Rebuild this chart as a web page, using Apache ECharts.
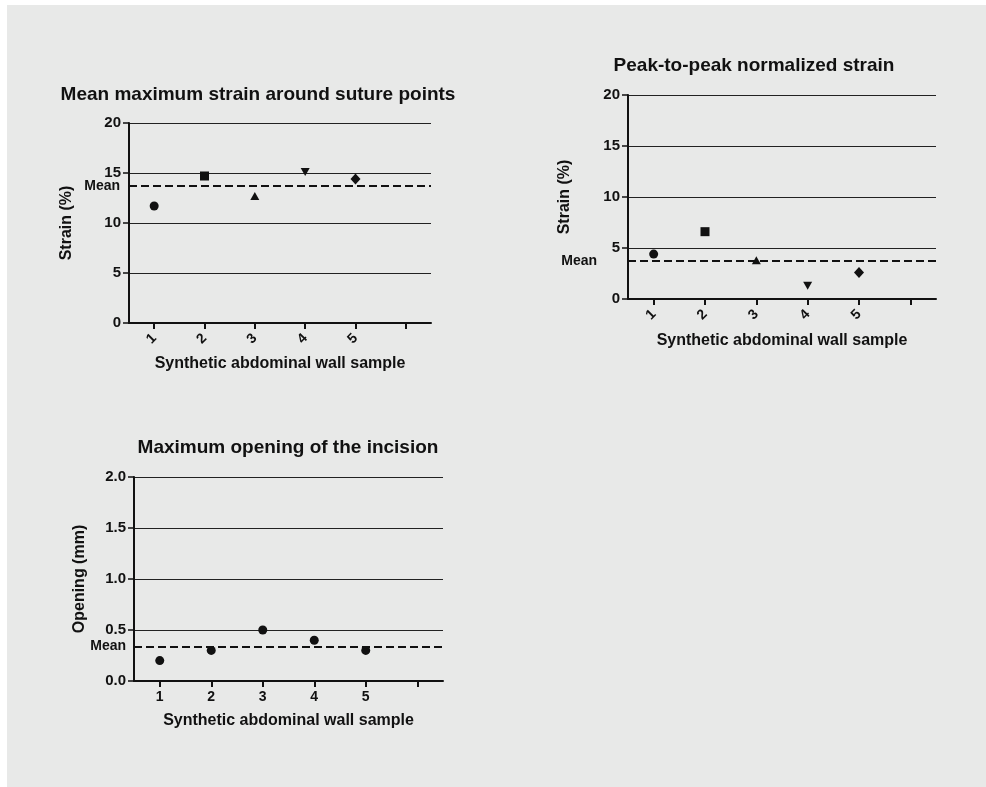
<!DOCTYPE html>
<html>
<head>
<meta charset="utf-8">
<script src="https://cdn.jsdelivr.net/npm/echarts@6/dist/echarts.min.js"></script>
<style>
  html, body { margin: 0; padding: 0; background: #ffffff; }
  #chart { width: 986px; height: 787px; }
</style>
</head>
<body>
<div id="chart"></div>
<script>
// Sample labels (a sixth, empty slot leaves room to the right of sample 5)
const samples = ['1', '2', '3', '4', '5', ''];

// Mean maximum strain around suture points (%)
const strainMax = [11.7, 14.7, 12.7, 15.1, 14.4];
// Peak-to-peak normalized strain (%)
const strainP2P = [4.4, 6.6, 3.8, 1.3, 2.6];
// Maximum opening of the incision (mm)
const opening = [0.2, 0.3, 0.5, 0.4, 0.3];

// Marker used for each sample in the strain panels
const markers = ['circle', 'rect', 'triangle', 'path://M0,0 L10,0 L5,10 Z', 'diamond'];
const markerSizes = [9, 9, [9, 8], [9, 8], [10, 11]];

const FONT = '"Liberation Sans", Arial, sans-serif';
const INK = '#111111';

function mean(arr) {
  return arr.reduce((a, b) => a + b, 0) / arr.length;
}

function points(values, useMarkers) {
  return values.map((v, i) => {
    const item = { value: v };
    if (useMarkers) {
      item.symbol = markers[i];
      item.symbolSize = markerSizes[i];
    }
    return item;
  });
}

function xAxisFor(gridIndex, rotate, margin, nameGap) {
  return {
    type: 'category',
    gridIndex: gridIndex,
    data: samples,
    boundaryGap: true,
    name: 'Synthetic abdominal wall sample',
    nameLocation: 'middle',
    nameGap: nameGap,
    nameTextStyle: { fontFamily: FONT, fontWeight: 'bold', fontSize: 16, color: INK },
    axisLine: { lineStyle: { color: INK, width: 2 } },
    axisTick: { show: true, alignWithLabel: true, interval: 0, length: 6, lineStyle: { color: INK, width: 2 } },
    axisLabel: { interval: 0, rotate: rotate, margin: margin, fontFamily: FONT, fontWeight: 'bold', fontSize: 14, color: INK },
    splitLine: { show: false }
  };
}

function yAxisFor(gridIndex, name, max, interval, nameGap, fmt) {
  return {
    type: 'value',
    gridIndex: gridIndex,
    min: 0,
    max: max,
    interval: interval,
    name: name,
    nameLocation: 'middle',
    nameGap: nameGap,
    nameTextStyle: { fontFamily: FONT, fontWeight: 'bold', fontSize: 16, color: INK },
    axisLine: { show: true, lineStyle: { color: INK, width: 2 } },
    axisTick: { show: true, length: 6, lineStyle: { color: INK, width: 1.5 } },
    axisLabel: { margin: 8, fontFamily: FONT, fontWeight: 'bold', fontSize: 15, color: INK, formatter: fmt },
    splitLine: { show: true, lineStyle: { color: '#222222', width: 1 } }
  };
}

function scatterFor(index, values, useMarkers, labelDistance) {
  return {
    type: 'scatter',
    xAxisIndex: index,
    yAxisIndex: index,
    symbol: 'circle',
    symbolSize: 9,
    itemStyle: { color: INK, opacity: 1 },
    data: points(values, useMarkers),
    markLine: {
      silent: true,
      symbol: 'none',
      lineStyle: { color: INK, type: [8, 4], width: 2 },
      label: {
        show: true,
        position: 'start',
        distance: labelDistance,
        formatter: 'Mean',
        fontFamily: FONT,
        fontWeight: 'bold',
        fontSize: 14,
        color: INK
      },
      data: [{ yAxis: mean(values) }]
    }
  };
}

const chart = echarts.init(document.getElementById('chart'), null, { renderer: 'canvas' });

chart.setOption({
  animation: false,
  backgroundColor: '#ffffff',
  graphic: [{
    type: 'rect',
    z: -10,
    silent: true,
    shape: { x: 7, y: 5, width: 979, height: 782 },
    style: { fill: '#e8e9e8' }
  }],
  title: [
    { text: 'Mean maximum strain around suture points', left: 253, top: 80, textAlign: 'center',
      textStyle: { fontFamily: FONT, fontWeight: 'bold', fontSize: 19, color: INK } },
    { text: 'Peak-to-peak normalized strain', left: 749, top: 51, textAlign: 'center',
      textStyle: { fontFamily: FONT, fontWeight: 'bold', fontSize: 19, color: INK } },
    { text: 'Maximum opening of the incision', left: 283, top: 433, textAlign: 'center',
      textStyle: { fontFamily: FONT, fontWeight: 'bold', fontSize: 19, color: INK } }
  ],
  grid: [
    { left: 129, top: 123, width: 302, height: 200 },
    { left: 628, top: 95, width: 308, height: 204 },
    { left: 134, top: 477, width: 309, height: 204 }
  ],
  xAxis: [
    xAxisFor(0, 45, 13, 33),
    xAxisFor(1, 45, 13, 34),
    xAxisFor(2, 0, 9, 32)
  ],
  yAxis: [
    yAxisFor(0, 'Strain (%)', 20, 5, 54, null),
    yAxisFor(1, 'Strain (%)', 20, 5, 55, null),
    yAxisFor(2, 'Opening (mm)', 2, 0.5, 46, v => v.toFixed(1))
  ],
  series: [
    scatterFor(0, strainMax, true, 9),
    scatterFor(1, strainP2P, true, 31),
    scatterFor(2, opening, false, 8)
  ]
});
</script>
</body>
</html>
